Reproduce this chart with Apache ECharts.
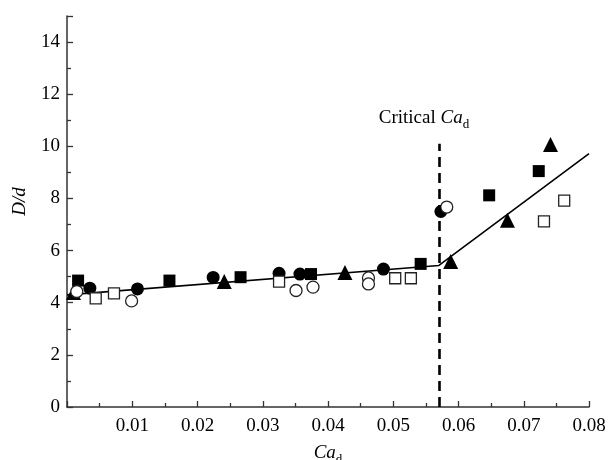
<!DOCTYPE html>
<html>
<head>
<meta charset="utf-8">
<script src="https://cdn.jsdelivr.net/npm/echarts@6/dist/echarts.min.js"></script>
<style>
  html, body { margin: 0; padding: 0; background: #fff; }
</style>
</head>
<body>
<div id="chart" style="width:611px;height:460px;"></div>
<script>
// data
var filledSquareX = [0.0017, 0.0157, 0.0266, 0.0374, 0.0542, 0.0647, 0.0723];
var filledSquareY = [4.85, 4.85, 4.98, 5.1, 5.49, 8.12, 9.05];
var filledCircleX = [0.0035, 0.0108, 0.0224, 0.0325, 0.0357, 0.0485, 0.0573];
var filledCircleY = [4.56, 4.53, 4.97, 5.13, 5.1, 5.29, 7.5];
var openCircleX = [0.0015, 0.0099, 0.0351, 0.0377, 0.0462, 0.0462, 0.0582];
var openCircleY = [4.43, 4.07, 4.47, 4.6, 4.95, 4.72, 7.67];
var openSquareX = [0.0044, 0.0072, 0.0325, 0.0503, 0.0527, 0.0731, 0.0762];
var openSquareY = [4.17, 4.36, 4.81, 4.94, 4.94, 7.12, 7.92];
var triangleX = [0.001, 0.0241, 0.0426, 0.0588, 0.0675, 0.0741];
var triangleY = [4.39, 4.81, 5.16, 5.58, 7.16, 10.07];

// piecewise fit and critical value
var fitX = [0, 0.057, 0.08];
var fitY = [4.3, 5.43, 9.72];
var criticalCa = 0.057;
var criticalTop = 10.1;

var xTicks = [0.01, 0.02, 0.03, 0.04, 0.05, 0.06, 0.07, 0.08];
var yTicks = [0, 2, 4, 6, 8, 10, 12, 14];

function pairs(xs, ys) {
  return xs.map(function (x, i) { return [x, ys[i]]; });
}

var ink = '#000';
var axisColor = '#333';
var font = '"Liberation Serif", "DejaVu Serif", serif';

var chart = echarts.init(document.getElementById('chart'));

function scatter(name, xs, ys, symbol, size, open) {
  return {
    name: name,
    type: 'scatter',
    symbol: symbol,
    symbolSize: size,
    data: pairs(xs, ys),
    itemStyle: open
      ? { color: '#fff', borderColor: '#222', borderWidth: 1.3, opacity: 1 }
      : { color: ink, opacity: 1 },
    z: open ? 4 : 3
  };
}

var option = {
  animation: false,
  backgroundColor: '#fff',
  grid: { left: 67, right: 22, top: 16, bottom: 53, containLabel: false, outerBoundsMode: 'none' },
  xAxis: {
    type: 'value',
    min: 0,
    max: 0.08,
    interval: 0.01,
    name: '{i|Ca}{s|d}',
    nameLocation: 'middle',
    nameGap: 33,
    nameTextStyle: {
      fontFamily: font,
      rich: {
        i: { fontFamily: font, fontStyle: 'italic', fontSize: 19, color: ink, lineHeight: 26 },
        s: { fontFamily: font, fontSize: 13, color: ink, verticalAlign: 'bottom', lineHeight: 14 }
      }
    },
    axisLine: { show: true, lineStyle: { color: axisColor, width: 1.5 } },
    axisTick: { show: true, inside: true, length: 6, lineStyle: { color: axisColor, width: 1.3 } },
    minorTick: { show: true, splitNumber: 2, length: 4, lineStyle: { color: axisColor, width: 1.3 } },
    splitLine: { show: false },
    axisLabel: {
      fontFamily: font,
      fontSize: 19,
      color: ink,
      margin: 10,
      formatter: function (v) {
        var hit = xTicks.find(function (t) { return Math.abs(t - v) < 1e-9; });
        return hit === undefined ? '' : hit.toFixed(2);
      }
    }
  },
  yAxis: {
    type: 'value',
    min: 0,
    max: 15,
    interval: 2,
    name: '{i|D}{n|/}{i|d}',
    nameLocation: 'middle',
    nameGap: 38,
    nameTextStyle: {
      fontFamily: font,
      padding: [0, 0, 0, 20],
      rich: {
        i: { fontFamily: font, fontStyle: 'italic', fontSize: 19, color: ink },
        n: { fontFamily: font, fontStyle: 'italic', fontSize: 19, color: ink }
      }
    },
    axisLine: { show: true, lineStyle: { color: axisColor, width: 1.5 } },
    axisTick: { show: true, inside: true, length: 6, lineStyle: { color: axisColor, width: 1.3 } },
    minorTick: { show: true, splitNumber: 2, length: 4, lineStyle: { color: axisColor, width: 1.3 } },
    splitLine: { show: false },
    axisLabel: {
      fontFamily: font,
      fontSize: 19,
      color: ink,
      margin: 7,
      formatter: function (v) {
        return yTicks.indexOf(v) >= 0 ? String(v) : '';
      }
    }
  },
  series: [
    {
      name: 'fit',
      type: 'line',
      data: pairs(fitX, fitY),
      symbol: 'none',
      lineStyle: { color: ink, width: 1.6 },
      z: 2,
      markLine: {
        silent: true,
        symbol: 'none',
        lineStyle: { color: ink, width: 2.6, type: [10, 6] },
        label: {
          show: true,
          position: 'end',
          distance: 13,
          padding: [0, 30, 0, 0],
          formatter: '{n|Critical }{i|Ca}{s|d}',
          rich: {
            n: { fontFamily: font, fontSize: 19, color: ink, lineHeight: 26 },
            i: { fontFamily: font, fontStyle: 'italic', fontSize: 19, color: ink, lineHeight: 26 },
            s: { fontFamily: font, fontSize: 13, color: ink, verticalAlign: 'bottom', lineHeight: 14 }
          }
        },
        data: [[
          { coord: [criticalCa, 0] },
          { coord: [criticalCa, criticalTop] }
        ]]
      }
    },
    scatter('triangle', triangleX, triangleY, 'triangle', 15, false),
    scatter('filled square', filledSquareX, filledSquareY, 'rect', 12, false),
    scatter('filled circle', filledCircleX, filledCircleY, 'circle', 13, false),
    scatter('open circle', openCircleX, openCircleY, 'circle', 12, true),
    scatter('open square', openSquareX, openSquareY, 'rect', 11, true)
  ]
};

chart.setOption(option);
</script>
</body>
</html>
